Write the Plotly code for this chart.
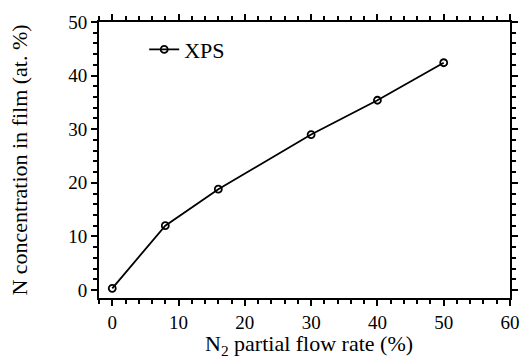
import plotly.graph_objects as go

flow_rate = [0, 8, 16, 30, 40, 50]
n_conc = [0.3, 12.0, 18.8, 29.0, 35.4, 42.4]
series_name = "XPS"
x_title = "N<sub>2</sub> partial flow rate (%)"
y_title = "N concentration in film (at. %)"

FAMILY = "Liberation Serif, Times New Roman, serif"

fig = go.Figure()
fig.add_trace(go.Scatter(
    x=flow_rate, y=n_conc, name=series_name, mode="lines+markers",
    line=dict(color="black", width=1.8),
    marker=dict(symbol="circle-open", size=7, color="black", line=dict(width=1.8)),
))

tick_font = dict(family=FAMILY, size=19, color="black")
title_font = dict(family=FAMILY, size=22, color="black")
axis_common = dict(
    showline=True, linecolor="black", linewidth=2, mirror="allticks",
    ticks="outside", ticklen=6, tickwidth=2, tickcolor="black",
    showgrid=False, zeroline=False, tickfont=tick_font,
    minor=dict(ticks="outside", ticklen=4, tickwidth=1.5, tickcolor="black", showgrid=False),
)
fig.update_xaxes(range=[-2, 60], dtick=10, minor_dtick=2, **axis_common)
fig.update_yaxes(range=[-1.5, 50], dtick=10, minor_dtick=2,
                 title=dict(text=y_title, font=title_font, standoff=35),
                 **axis_common)

fig.add_annotation(text=x_title, xref="paper", yref="paper", x=0.51, y=-0.17,
                   xanchor="center", yanchor="middle", showarrow=False, font=title_font)

fig.update_layout(
    width=532, height=362, margin=dict(l=99, r=15, t=16, b=64),
    plot_bgcolor="white", paper_bgcolor="white", showlegend=True,
    font=dict(family=FAMILY, color="black"),
    legend=dict(x=0.11, y=0.90, xanchor="left", yanchor="middle", font=title_font,
                bgcolor="rgba(0,0,0,0)"),
)
fig.write_html("out.html")
